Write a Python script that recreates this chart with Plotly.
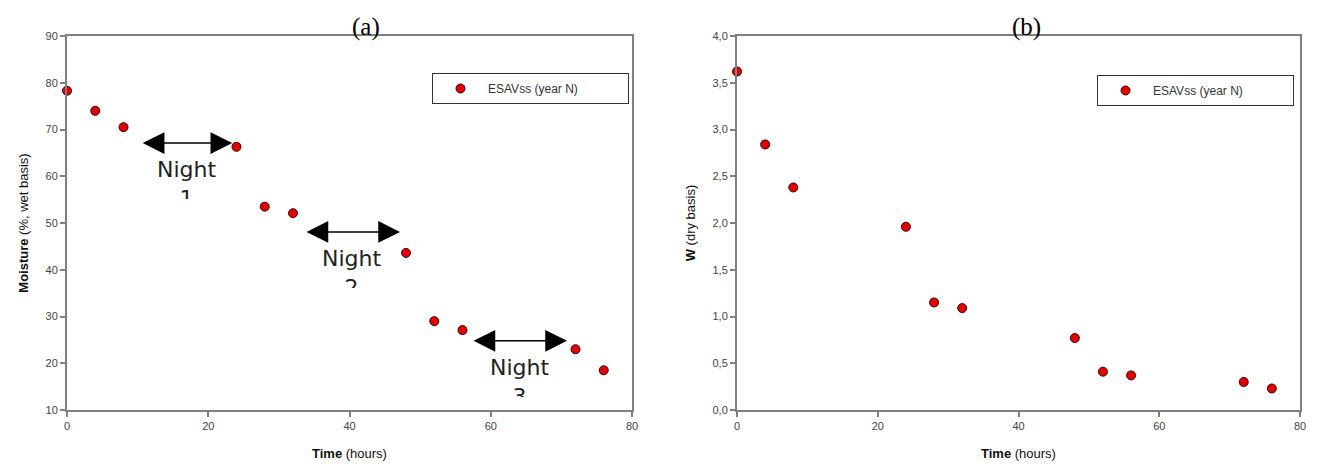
import plotly.graph_objects as go

time_h = [0, 4, 8, 24, 28, 32, 48, 52, 56, 72, 76]
moisture_wb = [78.3, 74.0, 70.5, 66.3, 53.5, 52.1, 43.6, 29.0, 27.1, 23.0, 18.5]
w_db = [3.62, 2.84, 2.38, 1.96, 1.15, 1.09, 0.77, 0.41, 0.37, 0.30, 0.23]
series_name = "ESAVss (year N)"
night_labels = ["Night<br>1", "Night<br>2", "Night<br>3"]
night_start = [10.5, 33.7, 57.35]
night_end = [23.4, 47.15, 70.8]
night_arrow_y = [67.1, 48.1, 24.8]
night_text_x = [16.9, 40.35, 64.1]
night_text_y = [64.6, 45.6, 22.3]

fig = go.Figure()
dom_a = [0, 565 / 1233]
dom_b = [670 / 1233, 1]

marker = dict(size=9, color="#e00000", line=dict(color="#400000", width=1))
fig.add_trace(go.Scatter(x=time_h, y=moisture_wb, mode="markers", name=series_name,
                         marker=marker, xaxis="x", yaxis="y", legend="legend",
                         showlegend=True, cliponaxis=False))
fig.add_trace(go.Scatter(x=time_h, y=w_db, mode="markers", name=series_name,
                         marker=marker, xaxis="x2", yaxis="y2", legend="legend2",
                         showlegend=True, cliponaxis=False))

axis_common = dict(showline=True, linecolor="#808080", linewidth=2, mirror=True,
                   ticks="outside", ticklen=5, tickcolor="#808080", tickwidth=1.5,
                   showgrid=False, zeroline=False,
                   tickfont=dict(family="Liberation Sans", size=11, color="#444"))
title_font = dict(family="Liberation Sans", size=13, color="#111")
legend_font = dict(family="Liberation Sans", size=12, color="#333")

fig.update_layout(
    showlegend=True,
    xaxis=dict(domain=dom_a, range=[0, 80], dtick=20, anchor="y",
               title=dict(text="<b>Time</b> (hours)", font=title_font, standoff=18), **axis_common),
    yaxis=dict(domain=[0, 1], range=[10, 90], dtick=10, anchor="x",
               title=dict(text="<b>Moisture</b> (%, wet basis)", font=title_font, standoff=14), **axis_common),
    xaxis2=dict(domain=dom_b, range=[0, 80], dtick=20, anchor="y2",
                title=dict(text="<b>Time</b> (hours)", font=title_font, standoff=18), **axis_common),
    yaxis2=dict(domain=[0, 1], range=[0, 4], dtick=0.5, tickformat=".1f", anchor="x2",
                title=dict(text="<b>W</b> (dry basis)", font=title_font, standoff=14), **axis_common),
    separators=", ",
    width=1327, height=474,
    margin=dict(l=67, r=27, t=36, b=64),
    paper_bgcolor="white", plot_bgcolor="white",
    legend=dict(x=(432 - 67) / 1233, y=(410 - 73) / 374, xanchor="left", yanchor="top",
                orientation="h", entrywidth=135, itemwidth=45, bordercolor="#333", borderwidth=1,
                font=legend_font, bgcolor="white"),
    legend2=dict(x=(1097 - 67) / 1233, y=(410 - 75) / 374, xanchor="left", yanchor="top",
                 orientation="h", entrywidth=135, itemwidth=45, bordercolor="#333", borderwidth=1,
                 font=legend_font, bgcolor="white"),
)

annotations = [
    dict(text="(a)", x=(350 - 67) / 1233, y=1.0, xref="paper", yref="paper", showarrow=False,
         yanchor="bottom", yshift=-7, font=dict(family="Liberation Serif", size=25, color="#000")),
    dict(text="(b)", x=(1043 - 67) / 1233, y=1.0, xref="paper", yref="paper", showarrow=False,
         yanchor="bottom", yshift=-7, font=dict(family="Liberation Serif", size=25, color="#000")),
]
for lab, xs, xe, ya, tx, ty in zip(night_labels, night_start, night_end, night_arrow_y,
                                   night_text_x, night_text_y):
    annotations.append(dict(x=xe, y=ya, ax=xs, ay=ya, xref="x", yref="y", axref="x", ayref="y",
                            text="", showarrow=True, arrowhead=2, startarrowhead=2,
                            arrowside="end+start", arrowsize=2.9, startarrowsize=2.9,
                            arrowwidth=1.5, arrowcolor="#000"))
    annotations.append(dict(x=tx, y=ty, xref="x", yref="y", text=lab, showarrow=False,
                            yanchor="top", valign="top", height=42,
                            font=dict(family="DejaVu Sans", size=22, color="#222")))
fig.update_layout(annotations=annotations)

fig.write_html("out.html")
